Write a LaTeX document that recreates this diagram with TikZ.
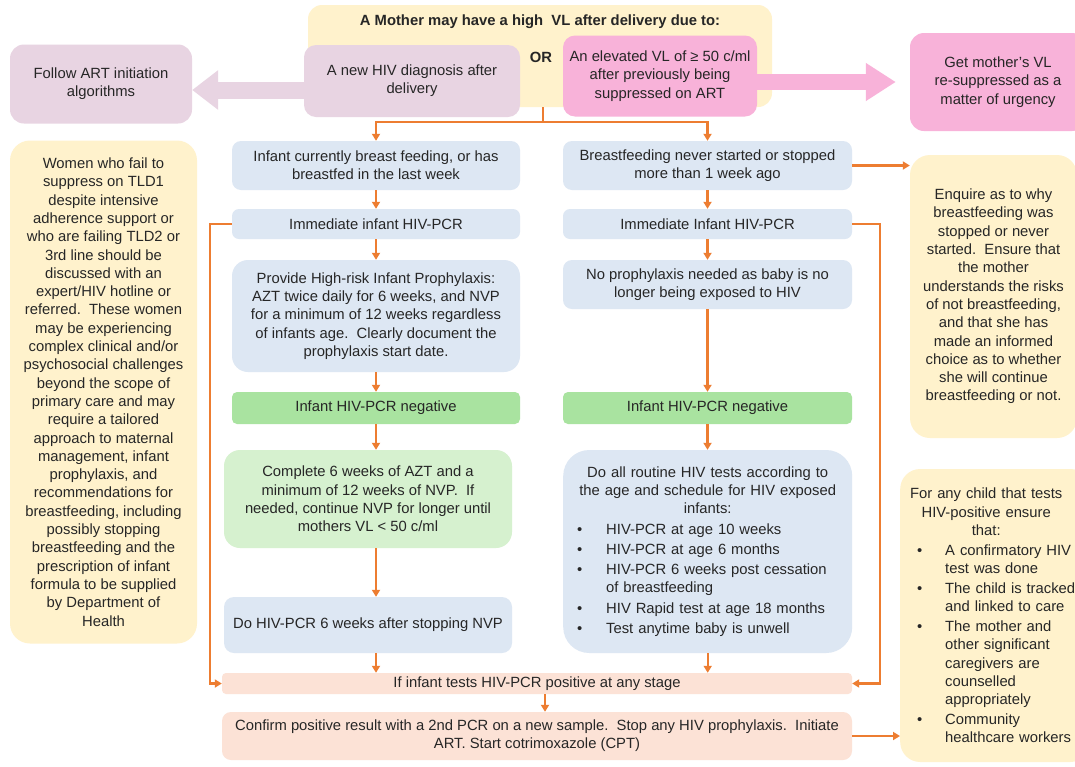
\documentclass[tikz,border=0pt]{standalone}
\usepackage{fontspec}
\setmainfont{Liberation Sans}
\usetikzlibrary{arrows.meta}
\definecolor{yel}{HTML}{FFF2CC}
\definecolor{mauve}{HTML}{E8D4E2}
\definecolor{pinkb}{HTML}{F8B2D9}
\definecolor{blu}{HTML}{DDE7F3}
\definecolor{grn}{HTML}{A9E3A0}
\definecolor{lgrn}{HTML}{D6F1CF}
\definecolor{peach}{HTML}{FCE2D6}
\definecolor{org}{HTML}{ED7D31}
\definecolor{txt}{HTML}{262626}
\newcommand\fs{\fontsize{14.8}{18.3}\selectfont}
\newcommand\bitem[3]{\par\noindent\hangindent=#1\hangafter=1\makebox[#1][l]{\hspace{#2}•}#3}
\begin{document}
\begin{tikzpicture}[x=1pt,y=-1pt,
  box/.style={rounded corners=9pt, inner sep=0pt, align=center, font=\fs, text=txt},
  conn/.style={draw=org, line width=2.2pt},
  arr/.style={conn, -{Triangle[length=7pt,width=8pt]}},
]
\fill[white] (0,0) rectangle (1075,766);
\useasboundingbox (0,0) rectangle (1075,766);

% top section
\node[box, fill=yel, rounded corners=14pt, minimum width=464, minimum height=102] (top) at (540,56) {};
\node[font=\fs\bfseries, text=txt] (title) at (540,22) {A Mother may have a high\ \ VL after delivery due to:};
\node[font=\fs\bfseries, text=txt] (or) at (541,57) {OR};
\node[box, fill=mauve, rounded corners=12pt, minimum width=216, minimum height=72] (newdx) at (412,81) {A new HIV diagnosis after\\delivery};
\node[box, fill=pinkb, rounded corners=12pt, minimum width=194, minimum height=81] (elev) at (660,76) {An elevated VL of ≥ 50 c/ml\\after previously being\\suppressed on ART};
\node[box, fill=mauve, rounded corners=14pt, minimum width=182, minimum height=79] (follow) at (101,84) {Follow ART initiation\\algorithms};
\node[box, fill=pinkb, rounded corners=14pt, minimum width=176, minimum height=98] (getvl) at (998,82) {Get mother's VL\\re-suppressed as a\\matter of urgency};

\coordinate (la) at (0,90);
\coordinate (ra) at (0,82);
\draw[mauve, line width=17pt, -{Triangle[length=26pt,width=38pt]}] (newdx.west |- la) -- (follow.east |- la);
\draw[pinkb, line width=16pt, -{Triangle[length=30pt,width=36pt]}] (elev.east |- ra) -- ([xshift=-14pt]getvl.west |- ra);

% left info box
\node[box, fill=yel, rounded corners=20pt, minimum width=187, minimum height=503] (women) at (103.5,392) {Women who fail to\\suppress on TLD1\\despite intensive\\adherence support or\\who are failing TLD2 or\\3rd line should be\\discussed with an\\expert/HIV hotline or\\referred.\ \ These women\\may be experiencing\\complex clinical and/or\\psychosocial challenges\\beyond the scope of\\primary care and may\\require a tailored\\approach to maternal\\management, infant\\prophylaxis, and\\recommendations for\\breastfeeding, including\\possibly stopping\\breastfeeding and the\\prescription of infant\\formula to be supplied\\by Department of\\Health};

% left column
\node[box, fill=blu, minimum width=288, minimum height=49] (b1) at (376,165.5) {Infant currently breast feeding, or has\\breastfed in the last week};
\node[box, fill=blu, rounded corners=7pt, minimum width=288, minimum height=30] (b2) at (376,224) {Immediate infant HIV-PCR};
\node[box, fill=blu, rounded corners=16pt, minimum width=288, minimum height=112] (b3) at (376,316) {Provide High-risk Infant Prophylaxis:\\AZT twice daily for 6 weeks, and NVP\\for a minimum of 12 weeks regardless\\of infants age.\ \ Clearly document the\\prophylaxis start date.};
\node[box, fill=grn, rounded corners=5pt, minimum width=288, minimum height=32] (g1) at (376,408) {Infant HIV-PCR negative};
\node[box, fill=lgrn, rounded corners=16pt, minimum width=288, minimum height=98] (g2) at (368,499) {Complete 6 weeks of AZT and a\\minimum of 12 weeks of NVP.\ \ If\\needed, continue NVP for longer until\\mothers VL < 50 c/ml};
\node[box, fill=blu, rounded corners=10pt, minimum width=288, minimum height=56] (b4) at (368,625) {Do HIV-PCR 6 weeks after stopping NVP};

% right column
\node[box, fill=blu, minimum width=289, minimum height=49] (r1) at (707.5,165.5) {Breastfeeding never started or stopped\\more than 1 week ago};
\node[box, fill=blu, rounded corners=7pt, minimum width=289, minimum height=30] (r2) at (707.5,224) {Immediate Infant HIV-PCR};
\node[box, fill=blu, minimum width=289, minimum height=49] (r3) at (707.5,284.5) {No prophylaxis needed as baby is no\\longer being exposed to HIV};
\node[box, fill=grn, rounded corners=5pt, minimum width=289, minimum height=32] (rg) at (707.5,408) {Infant HIV-PCR negative};
\node[box, fill=blu, rounded corners=26pt, anchor=west, inner xsep=10pt, text width=269, align=left, minimum height=203] (r4) at (563,551.5) {%
\setlength\parskip{2pt}%
\noindent\makebox[269pt]{Do all routine HIV tests according to}\newline
\makebox[269pt]{the age and schedule for HIV exposed}\newline
\makebox[269pt]{infants:}
\bitem{33pt}{4pt}{HIV-PCR at age 10 weeks}
\bitem{33pt}{4pt}{HIV-PCR at age 6 months}
\bitem{33pt}{4pt}{HIV-PCR 6 weeks post cessation\newline of breastfeeding}
\bitem{33pt}{4pt}{HIV Rapid test at age 18 months}
\bitem{33pt}{4pt}{Test anytime baby is unwell}\par};

% right info boxes
\node[box, fill=yel, rounded corners=20pt, minimum width=167, minimum height=283] (enq) at (993.5,296.5) {Enquire as to why\\breastfeeding was\\stopped or never\\started.\ \ Ensure that\\the mother\\understands the risks\\of not breastfeeding,\\and that she has\\made an informed\\choice as to whether\\she will continue\\breastfeeding or not.};
\node[box, fill=yel, rounded corners=20pt, anchor=west, inner xsep=10pt, text width=170, align=left, minimum height=293] (forany) at (900,615.5) {%
\setlength\parskip{1.5pt}%
\noindent\makebox[152pt]{For any child that tests}\newline
\makebox[152pt]{HIV-positive ensure}\newline
\makebox[152pt]{that:}
\bitem{35pt}{7pt}{A confirmatory HIV\newline test was done}
\bitem{35pt}{7pt}{The child is tracked\newline and linked to care}
\bitem{35pt}{7pt}{The mother and\newline other significant\newline caregivers are\newline counselled\newline appropriately}
\bitem{35pt}{7pt}{Community\newline healthcare workers}\par};

% bottom
\node[box, fill=peach, rounded corners=4pt, minimum width=630, minimum height=21] (pos) at (537,683.5) {If infant tests HIV-PCR positive at any stage};
\node[box, fill=peach, rounded corners=9pt, minimum width=630, minimum height=48] (conf) at (537,736) {Confirm positive result with a 2nd PCR on a new sample.\ \ Stop any HIV prophylaxis.\ \ Initiate\\ART. Start cotrimoxazole (CPT)};

% connectors
\coordinate (split) at (543,122);
\draw[conn] (top.south -| split) -- (split);
\draw[arr] (split) -| (b1.north);
\draw[arr] (split) -| (r1.north);
\draw[arr] (b1) -- (b2);
\draw[arr] (b2) -- (b3);
\draw[arr] (b3) -- (g1);
\draw[arr] (g1.south) -- (g1.south |- g2.north);
\draw[arr] (g2.south -| g1.south) -- (b4.north -| g1.south);
\draw[arr] (b4.south -| g1.south) -- (pos.north -| g1.south);
\draw[arr] (r1) -- (r2);
\draw[arr] (r2) -- (r3);
\draw[arr] (r3) -- (rg);
\draw[arr] (rg.south) -- (rg.south |- r4.north);
\draw[arr] (r4.south) -- (r4.south |- pos.north);
\draw[arr] ([xshift=8pt]pos.south) -- ([xshift=8pt]conf.north);
\draw[arr] (b2.west) -- ++(-22,0) |- (pos.west);
\draw[arr] (r2.east) -- ++(28,0) |- (pos.east);
\draw[arr] (r1.east) -- (r1.east -| enq.west);
\draw[arr] (conf.east) -- (conf.east -| forany.west);
\end{tikzpicture}
\end{document}
